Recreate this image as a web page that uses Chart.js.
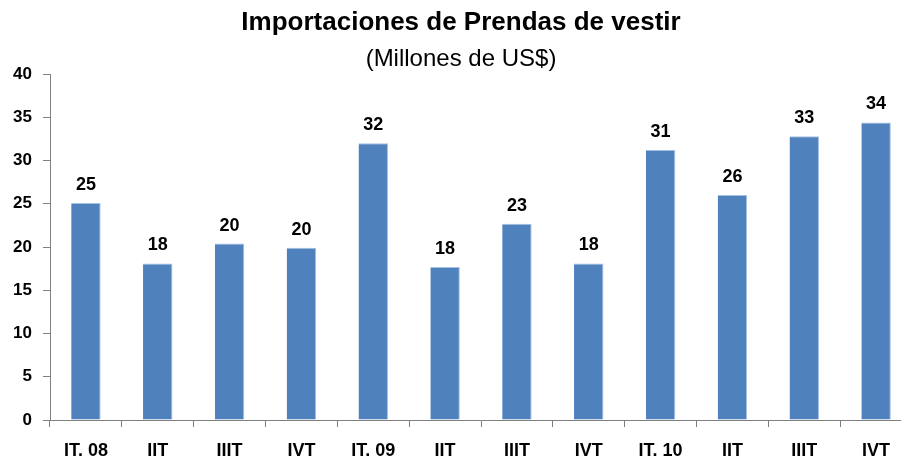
<!DOCTYPE html>
<html>
<head>
<meta charset="utf-8">
<script src="https://cdn.jsdelivr.net/npm/chart.js@4/dist/chart.umd.min.js"></script>
<style>
  html, body { margin: 0; padding: 0; background: #ffffff; overflow: hidden; }
  #wrap { width: 912px; height: 459px; }
</style>
</head>
<body>
<div id="wrap"><canvas id="chart" width="912" height="459"></canvas></div>
<script>
// Quarterly apparel imports, millions of US$
const quarters = ['IT. 08', 'IIT', 'IIIT', 'IVT', 'IT. 09', 'IIT', 'IIIT', 'IVT', 'IT. 10', 'IIT', 'IIIT', 'IVT'];
const imports = [25.1, 18.1, 20.4, 19.9, 32.0, 17.7, 22.7, 18.1, 31.2, 26.0, 32.8, 34.4];
const yTicks = [0, 5, 10, 15, 20, 25, 30, 35, 40];

const titleText = 'Importaciones de Prendas de vestir';
const subtitleText = '(Millones de US$)';
const FONT = '"Liberation Sans", Arial, sans-serif';
const AXIS_GREY = '#808080';

// Heading lines above the plot
const headingPlugin = {
  id: 'heading',
  afterDraw(chart) {
    const ctx = chart.ctx;
    ctx.save();
    ctx.fillStyle = '#000';
    ctx.textAlign = 'center';
    ctx.textBaseline = 'alphabetic';
    ctx.font = 'bold 26px ' + FONT;
    ctx.fillText(titleText, 461, 30);
    ctx.font = '24px ' + FONT;
    ctx.fillText(subtitleText, 461, 66);
    ctx.restore();
  }
};

// Rounded value printed above each bar
const valueLabels = {
  id: 'valueLabels',
  afterDatasetsDraw(chart) {
    const ctx = chart.ctx;
    const meta = chart.getDatasetMeta(0);
    const data = chart.data.datasets[0].data;
    ctx.save();
    ctx.fillStyle = '#000';
    ctx.font = 'bold 18px ' + FONT;
    ctx.textAlign = 'center';
    ctx.textBaseline = 'alphabetic';
    meta.data.forEach((bar, i) => {
      ctx.fillText(String(Math.round(data[i])), bar.x, bar.y - 13);
    });
    ctx.restore();
  }
};

new Chart(document.getElementById('chart'), {
  type: 'bar',
  data: {
    labels: quarters,
    datasets: [{
      data: imports,
      backgroundColor: '#4f81bd',
      borderColor: '#a3bfe2',
      borderWidth: { top: 1, right: 1, left: 0, bottom: 0 },
      borderSkipped: 'bottom',
      categoryPercentage: 1.0,
      barPercentage: 0.41
    }]
  },
  options: {
    responsive: false,
    animation: false,
    events: [],
    layout: { padding: { top: 74, right: 0, bottom: 0, left: 0 } },
    plugins: {
      legend: { display: false },
      tooltip: { enabled: false },
      title: { display: false }
    },
    scales: {
      x: {
        offset: true,
        grid: {
          offset: true,
          drawOnChartArea: false,
          drawTicks: true,
          tickLength: 7,
          color: AXIS_GREY,
          lineWidth: 1
        },
        border: { display: true, color: AXIS_GREY, width: 1 },
        ticks: {
          color: '#000',
          font: { family: FONT, size: 18, weight: 'bold' },
          padding: 13,
          maxRotation: 0,
          autoSkip: false
        },
        afterFit(scale) { scale.height = 39; }
      },
      y: {
        min: 0,
        max: 40,
        afterBuildTicks(scale) { scale.ticks = yTicks.map(v => ({ value: v })); },
        grid: {
          drawOnChartArea: false,
          drawTicks: true,
          tickLength: 7,
          color: AXIS_GREY,
          lineWidth: 1
        },
        border: { display: true, color: AXIS_GREY, width: 1 },
        ticks: {
          color: '#000',
          font: { family: FONT, size: 17, weight: 'bold' },
          padding: 11
        },
        afterFit(scale) { scale.width = 50; }
      }
    }
  },
  plugins: [headingPlugin, valueLabels]
});
</script>
</body>
</html>
